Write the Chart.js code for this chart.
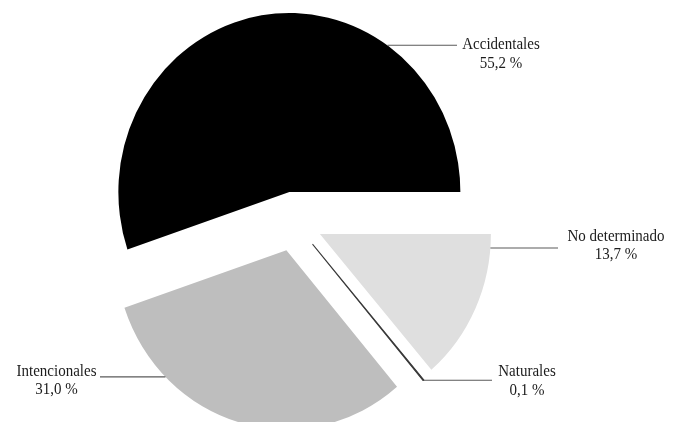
<!DOCTYPE html>
<html>
<head>
<meta charset="utf-8">
<script src="https://cdn.jsdelivr.net/npm/chart.js@4/dist/chart.umd.min.js"></script>
<style>
    html, body { margin: 0; padding: 0; background: #fff; overflow: hidden; }
    #box { position: relative; width: 678px; height: 422px; }
</style>
</head>
<body>
<div id="box"><canvas id="pieChart"></canvas></div>
<script>
// slices go clockwise from 3 o'clock
const causes = ['No determinado', 'Naturales', 'Intencionales', 'Accidentales'];
const shares = [13.7, 0.1, 31.0, 55.2];
const fills = ['#dfdfdf', '#3a3a3a', '#bebebe', '#000000'];

// where each callout leaves its slice and where its text sits
const callouts = [
    { angle: 4.5, lineTo: 558, dx: 58, dy: -10.6 },
    { angle: 49.5, lineTo: 492, dx: 35, dy: -7.7 },
    { angle: 135, lineTo: 100, dx: -43.5, dy: -5 },
    { angle: -55, lineTo: 457, dx: 44, dy: 0 }
];

const GAP = 28.5;
const STRETCH = 1.0472; // the pie is a little taller than it is wide

// push every slice out from the centre along its middle angle
const explode = {
    id: 'explode',
    afterDatasetUpdate(chart, args) {
        args.meta.data.forEach(arc => {
            const mid = (arc.startAngle + arc.endAngle) / 2;
            arc.x += Math.cos(mid) * GAP;
            arc.y += Math.sin(mid) * GAP;
        });
    }
};

const stretch = {
    id: 'stretch',
    beforeDraw(chart) {
        chart.ctx.save();
        chart.ctx.scale(1, STRETCH);
    }
};

const pct = v => v.toFixed(1).replace('.', ',') + ' %';

const callout = {
    id: 'callout',
    afterDraw(chart) {
        const ctx = chart.ctx;
        const arcs = chart.getDatasetMeta(0).data;
        ctx.save();
        ctx.font = '15px "Liberation Serif", "Times New Roman", serif';
        ctx.textAlign = 'center';
        ctx.textBaseline = 'middle';
        arcs.forEach((arc, i) => {
            const c = callouts[i];
            const a = c.angle * Math.PI / 180;
            const px = arc.x + Math.cos(a) * arc.outerRadius;
            const py = arc.y + Math.sin(a) * arc.outerRadius;
            ctx.strokeStyle = '#5a5a5a';
            ctx.lineWidth = 1;
            ctx.beginPath();
            ctx.moveTo(px, py);
            ctx.lineTo(c.lineTo, py);
            ctx.stroke();
            ctx.fillStyle = '#1c1c1c';
            const tx = c.lineTo + c.dx;
            const ty = py + c.dy;
            ctx.fillText(causes[i], tx, ty);
            ctx.fillText(pct(shares[i]), tx, ty + 17.5);
        });
        ctx.restore();
        ctx.restore(); // undo the stretch
    }
};

new Chart(document.getElementById('pieChart'), {
    type: 'pie',
    data: {
        labels: causes,
        datasets: [{
            data: shares,
            backgroundColor: fills,
            borderColor: ['#ffffff', '#3a3a3a', '#ffffff', '#ffffff'],
            borderWidth: [0, 1, 0, 0],
            rotation: 90,
            radius: 171,
            clip: false
        }]
    },
    options: {
        responsive: true,
        maintainAspectRatio: false,
        animation: false,
        events: [],
        layout: {
            padding: { left: 0, right: 90, top: 20, bottom: 19 }
        },
        plugins: {
            legend: { display: false },
            tooltip: { enabled: false }
        }
    },
    plugins: [explode, stretch, callout]
});
</script>
</body>
</html>
